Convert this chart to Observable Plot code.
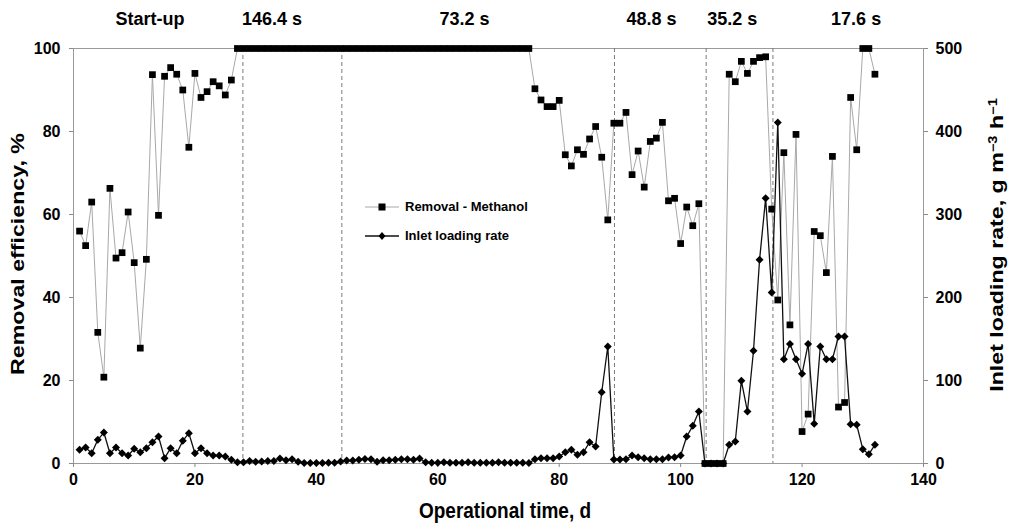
<!DOCTYPE html>
<html>
<head>
<meta charset="utf-8">
<script src="https://cdn.jsdelivr.net/npm/d3@7"></script>
<script src="https://cdn.jsdelivr.net/npm/@observablehq/plot@0.6"></script>
<style>
  html, body { margin: 0; padding: 0; background: #fff; }
  #wrap { position: relative; width: 1009px; height: 530px; font-family: "Liberation Sans", Arial, sans-serif; font-weight: bold; color: #000; }
  .title { position: absolute; white-space: nowrap; font-size: 19px; transform: translate(-50%, -50%) scaleY(1.12); }
  .rot { transform: translate(-50%, -50%) rotate(-90deg) scaleX(1.22); }
  .legend { position: absolute; left: 365px; top: 192px; font-size: 13px; }
  .legend .row { display: flex; align-items: center; height: 29px; }
  .legend svg { margin-right: 6px; }
  sup { font-size: 12px; vertical-align: 0.5em; line-height: 0; }
</style>
</head>
<body>
<div id="wrap"></div>
<script>
// Removal efficiency of methanol, %, days 1..132
const removal = [
  56, 52.5, 63, 31.6, 20.8, 66.3, 49.5, 50.8, 60.6, 48.4,          // 1-10
  27.8, 49.2, 93.7, 59.8, 93.3, 95.4, 93.8, 90, 76.2, 94,          // 11-20
  88.2, 89.6, 92, 91, 88.8, 92.4, 100, 100, 100, 100,              // 21-30
  100, 100, 100, 100, 100, 100, 100, 100, 100, 100,                // 31-40
  100, 100, 100, 100, 100, 100, 100, 100, 100, 100,                // 41-50
  100, 100, 100, 100, 100, 100, 100, 100, 100, 100,                // 51-60
  100, 100, 100, 100, 100, 100, 100, 100, 100, 100,                // 61-70
  100, 100, 100, 100, 100, 90.3, 87.6, 86, 86, 87.5,               // 71-80
  74.4, 71.7, 75.6, 74.5, 78.2, 81.2, 73.8, 58.7, 82, 82,          // 81-90
  84.6, 69.6, 75.3, 66.6, 77.6, 78.4, 82.2, 63.3, 63.9, 53,        // 91-100
  61.8, 57.3, 62.6, 0, 0, 0, 0, 93.8, 92, 96.9,                    // 101-110
  94, 96.9, 97.8, 98, 61.3, 39.4, 74.9, 33.4, 79.3, 7.7,           // 111-120
  11.9, 55.9, 54.9, 46, 74, 13.6, 14.7, 88.2, 75.6, 100,           // 121-130
  100, 93.8                                                        // 131-132
];
// Inlet loading rate, g m-3 h-1, days 1..132
const inlet = [
  16.5, 19.3, 12.4, 28.5, 37.3, 12.4, 19.3, 12.4, 9.6, 17.7,       // 1-10
  13.6, 18.5, 25.7, 32.5, 6.4, 18.5, 12.4, 27.3, 36.5, 12.4,       // 11-20
  18.5, 12.4, 9.6, 9.6, 8.4, 4.4, 1.6, 1.6, 3, 2,                  // 21-30
  2.5, 3, 3, 6, 4, 5, 2, 0.5, 0.5, 0.5,                            // 31-40
  0.5, 1, 1, 2.5, 3.5, 3.5, 4.5, 5.5, 5, 2,                        // 41-50
  4, 4, 4.5, 5, 5, 4.5, 6, 1.5, 1, 1,                              // 51-60
  1.5, 1, 1, 1, 1.5, 1, 1, 1, 1, 1.5,                              // 61-70
  1, 1, 1, 1, 0.5, 5.2, 6.4, 6.4, 6.4, 8.4,                        // 71-80
  13.6, 16.5, 10.4, 13.6, 25.7, 20.5, 85.9, 141, 4.8, 4.8,         // 81-90
  5.2, 9.6, 7.6, 6.4, 5.2, 5.2, 5.2, 7.2, 7.6, 9.6,                // 91-100
  32.5, 45.4, 62.7, 0, 0, 0, 0, 22.5, 26.5, 99.6,                  // 101-110
  62.7, 135.8, 245.4, 319.7, 206, 410.8, 125.7, 144, 125.7, 108,   // 111-120
  144, 47.8, 141, 125.7, 125.7, 153, 153, 47.4, 46.6, 17.3,        // 121-130
  11.2, 22.5                                                       // 131-132
];
const days = removal.map((_, i) => i + 1);

// Phase boundaries (HRT changes), days
const phaseBoundaries = [27.9, 44.2, 89.1, 104.2, 115.2];
// Phase labels above the plot and where they sit (days)
const phaseLabels = ["Start-up", "146.4 s", "73.2 s", "48.8 s", "35.2 s", "17.6 s"];
const phaseLabelAt = [12.6, 32.7, 64.4, 95.2, 108.5, 128.9];

// Tick values
const xTicks = [0, 20, 40, 60, 80, 100, 120, 140];
const yLeftTicks = [0, 20, 40, 60, 80, 100];
const yRightTicks = [0, 100, 200, 300, 400, 500];
const rightMax = 500, leftMax = 100;
const k = rightMax / leftMax;

const data = days.map((d, i) => ({day: d, removal: removal[i], inlet: inlet[i]}));
const labels = phaseLabels.map((t, i) => ({text: t, x: phaseLabelAt[i]}));

const chart = Plot.plot({
  width: 1009,
  height: 530,
  marginLeft: 73,
  marginRight: 86,
  marginTop: 48,
  marginBottom: 67,
  x: {domain: [0, 140]},
  y: {domain: [0, 100]},
  style: {fontFamily: "'Liberation Sans', Arial, sans-serif", fontSize: "16px", fontWeight: "bold", background: "white", overflow: "visible"},
  marks: [
    Plot.frame({stroke: "#9a9a9a"}),
    Plot.ruleX(phaseBoundaries, {stroke: "#7a7a7a", strokeDasharray: "4,3", strokeWidth: 1}),
    Plot.axisX({ticks: xTicks, tickSize: 4, tickPadding: 6, label: null, stroke: "#888", fill: "black"}),
    Plot.axisY({anchor: "left", ticks: yLeftTicks, tickSize: 4, tickPadding: 9, label: null, stroke: "#888", fill: "black"}),
    Plot.axisY({anchor: "right", ticks: yRightTicks.map(v => v / k), tickFormat: d => Math.round(d * k), tickSize: 4, tickPadding: 8, label: null, stroke: "#888", fill: "black"}),
    Plot.line(data, {x: "day", y: "removal", stroke: "#a8a8a8", strokeWidth: 1}),
    Plot.dot(data, {x: "day", y: "removal", symbol: "square", fill: "black", r: 3.8}),
    Plot.line(data, {x: "day", y: d => d.inlet / k, stroke: "#111", strokeWidth: 1.3}),
    Plot.dot(data, {x: "day", y: d => d.inlet / k, symbol: "diamond2", fill: "black", stroke: "none", r: 3.6}),
    Plot.text(labels, {x: "x", y: () => 100, text: "text", dy: -29, fontSize: 18, fontWeight: "bold", fill: "black"})
  ]
});

const wrap = document.getElementById("wrap");
wrap.appendChild(chart);

function addDiv(html, cls, left, top) {
  const el = document.createElement("div");
  el.className = cls;
  el.innerHTML = html;
  el.style.left = left + "px";
  el.style.top = top + "px";
  wrap.appendChild(el);
  return el;
}
addDiv("Operational time, d", "title", 505, 511);
addDiv("Removal efficiency, %", "title rot", 18, 254);
addDiv("Inlet loading rate, g m<sup>−3</sup> h<sup>−1</sup>", "title rot", 997, 245);

const legend = document.createElement("div");
legend.className = "legend";
legend.innerHTML = `
  <div class="row"><svg width="34" height="10"><line x1="0" y1="5" x2="34" y2="5" stroke="#a8a8a8" stroke-width="1"/><rect x="13.5" y="1.5" width="7" height="7" fill="black"/></svg><span>Removal - Methanol</span></div>
  <div class="row"><svg width="34" height="10"><line x1="0" y1="5" x2="34" y2="5" stroke="#111" stroke-width="1.3"/><path d="M17 1 L20.5 5 L17 9 L13.5 5 Z" fill="black"/></svg><span>Inlet loading rate</span></div>`;
wrap.appendChild(legend);
</script>
</body>
</html>
